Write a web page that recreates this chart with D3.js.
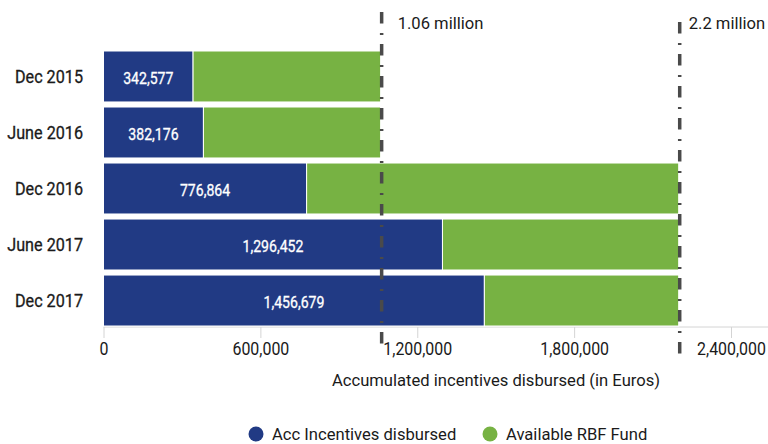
<!DOCTYPE html>
<html>
<head>
<meta charset="utf-8">
<script src="https://cdn.jsdelivr.net/npm/d3@7"></script>
<style>
  body { margin: 0; background: #fff; }
  svg { display: block; font-family: Roboto, sans-serif; }
</style>
</head>
<body>
<svg id="chart"></svg>
<script>
const categories = ['Dec 2015', 'June 2016', 'Dec 2016', 'June 2017', 'Dec 2017'];
const disbursed = [342577, 382176, 776864, 1296452, 1456679];
const fundTotal = [1060000, 1060000, 2200000, 2200000, 2200000];
const xTicks = [0, 600000, 1200000, 1800000, 2400000];
const refValues = [1060000, 2200000];
const refLabels = ['1.06 million', '2.2 million'];
const seriesNames = ['Acc Incentives disbursed', 'Available RBF Fund'];
const colors = ['#213a84', '#77b243'];

const width = 768;
const height = 444;
const margin = { top: 51, bottom: 118, left: 103.5, right: 37 };
const ink = '#1a1a1a';

const svg = d3.select('#chart')
  .attr('width', width)
  .attr('height', height);

const xScale = d3.scaleLinear()
  .domain([0, 2400000])
  .range([margin.left, width - margin.right]);

const yScale = d3.scaleBand()
  .domain(categories)
  .range([margin.top, height - margin.bottom])
  .paddingInner(0.09)
  .paddingOuter(0);

const rows = categories.map((c, i) => ({
  cat: c,
  acc: disbursed[i],
  avail: fundTotal[i] - disbursed[i]
}));
const stacked = d3.stack().keys(['acc', 'avail'])(rows);

// the source font is a narrow face, squeeze Roboto horizontally
const squeeze = (k) => `scale(${k},1)`;

// axis baseline + ticks
const axisY = height - margin.bottom + 1;
svg.append('line')
  .attr('x1', margin.left).attr('x2', width)
  .attr('y1', axisY).attr('y2', axisY)
  .attr('stroke', '#d4d4d4').attr('stroke-width', 1);

const xAxis = svg.append('g')
  .attr('transform', `translate(0, ${axisY})`)
  .call(d3.axisBottom(xScale)
          .tickValues(xTicks)
          .tickFormat(d3.format(','))
          .tickSizeInner(11)
          .tickSizeOuter(0)
          .tickPadding(5));
xAxis.select('.domain').remove();
xAxis.selectAll('.tick line').attr('stroke', '#d4d4d4');
xAxis.selectAll('.tick text')
  .attr('fill', ink)
  .attr('transform', squeeze(0.91))
  .style('font-size', '17.5px')
  .style('font-family', 'Roboto, sans-serif');

svg.append('text')
  .attr('x', 496)
  .attr('y', 386)
  .attr('text-anchor', 'middle')
  .attr('fill', ink)
  .style('font-size', '16.6px')
  .text('Accumulated incentives disbursed (in Euros)');

// bars
svg.append('g')
  .selectAll('g')
  .data(stacked)
  .join('g')
    .attr('fill', (d, i) => colors[i])
  .selectAll('rect')
  .data(d => d)
  .join('rect')
    .attr('x', d => xScale(d[0]))
    .attr('y', d => yScale(d.data.cat))
    .attr('width', d => xScale(d[1]) - xScale(d[0]))
    .attr('height', yScale.bandwidth())
    .attr('stroke', '#fff')
    .attr('stroke-width', 1);

// value labels inside the blue bars
svg.append('g')
  .selectAll('text')
  .data(rows)
  .join('text')
    .attr('transform', d => `translate(${(xScale(0) + xScale(d.acc)) / 2}, ${yScale(d.cat) + yScale.bandwidth() / 2 + 2}) ` + squeeze(0.88))
    .attr('dy', '0.35em')
    .attr('text-anchor', 'middle')
    .attr('fill', '#fff')
    .attr('stroke', '#fff')
    .attr('stroke-width', 0.3)
    .style('font-size', '16px')
    .text(d => d3.format(',')(d.acc));

// category labels
svg.append('g')
  .selectAll('text')
  .data(categories)
  .join('text')
    .attr('transform', d => `translate(83, ${yScale(d) + yScale.bandwidth() / 2}) ` + squeeze(0.925))
    .attr('dy', '0.35em')
    .attr('text-anchor', 'end')
    .attr('fill', ink)
    .attr('stroke', ink)
    .attr('stroke-width', 0.3)
    .style('font-size', '17.5px')
    .text(d => d);

// reference lines
const refTop = [12, 22];
svg.append('g')
  .selectAll('line')
  .data(refValues)
  .join('line')
    .attr('x1', d => xScale(d) + 1)
    .attr('x2', d => xScale(d) + 1)
    .attr('y1', (d, i) => refTop[i])
    .attr('y2', (d, i) => refTop[i] + 332)
    .attr('stroke', '#4a4a4a')
    .attr('stroke-width', 3.5)
    .attr('stroke-dasharray', '11.5,9.5,2,9');

const refOffset = [17, 10];
svg.append('g')
  .selectAll('text')
  .data(refValues)
  .join('text')
    .attr('x', (d, i) => xScale(d) + refOffset[i])
    .attr('y', 29)
    .attr('fill', ink)
    .style('font-size', '16.6px')
    .text((d, i) => refLabels[i]);

// legend
const legendX = [256, 490];
const legend = svg.append('g')
  .selectAll('g')
  .data(seriesNames)
  .join('g')
    .attr('transform', (d, i) => `translate(${legendX[i]}, 434)`);
legend.append('circle')
  .attr('r', 7.5)
  .attr('fill', (d, i) => colors[i]);
legend.append('text')
  .attr('x', 16)
  .attr('dy', '0.35em')
  .attr('fill', ink)
  .style('font-size', '16.6px')
  .text(d => d);
</script>
</body>
</html>
